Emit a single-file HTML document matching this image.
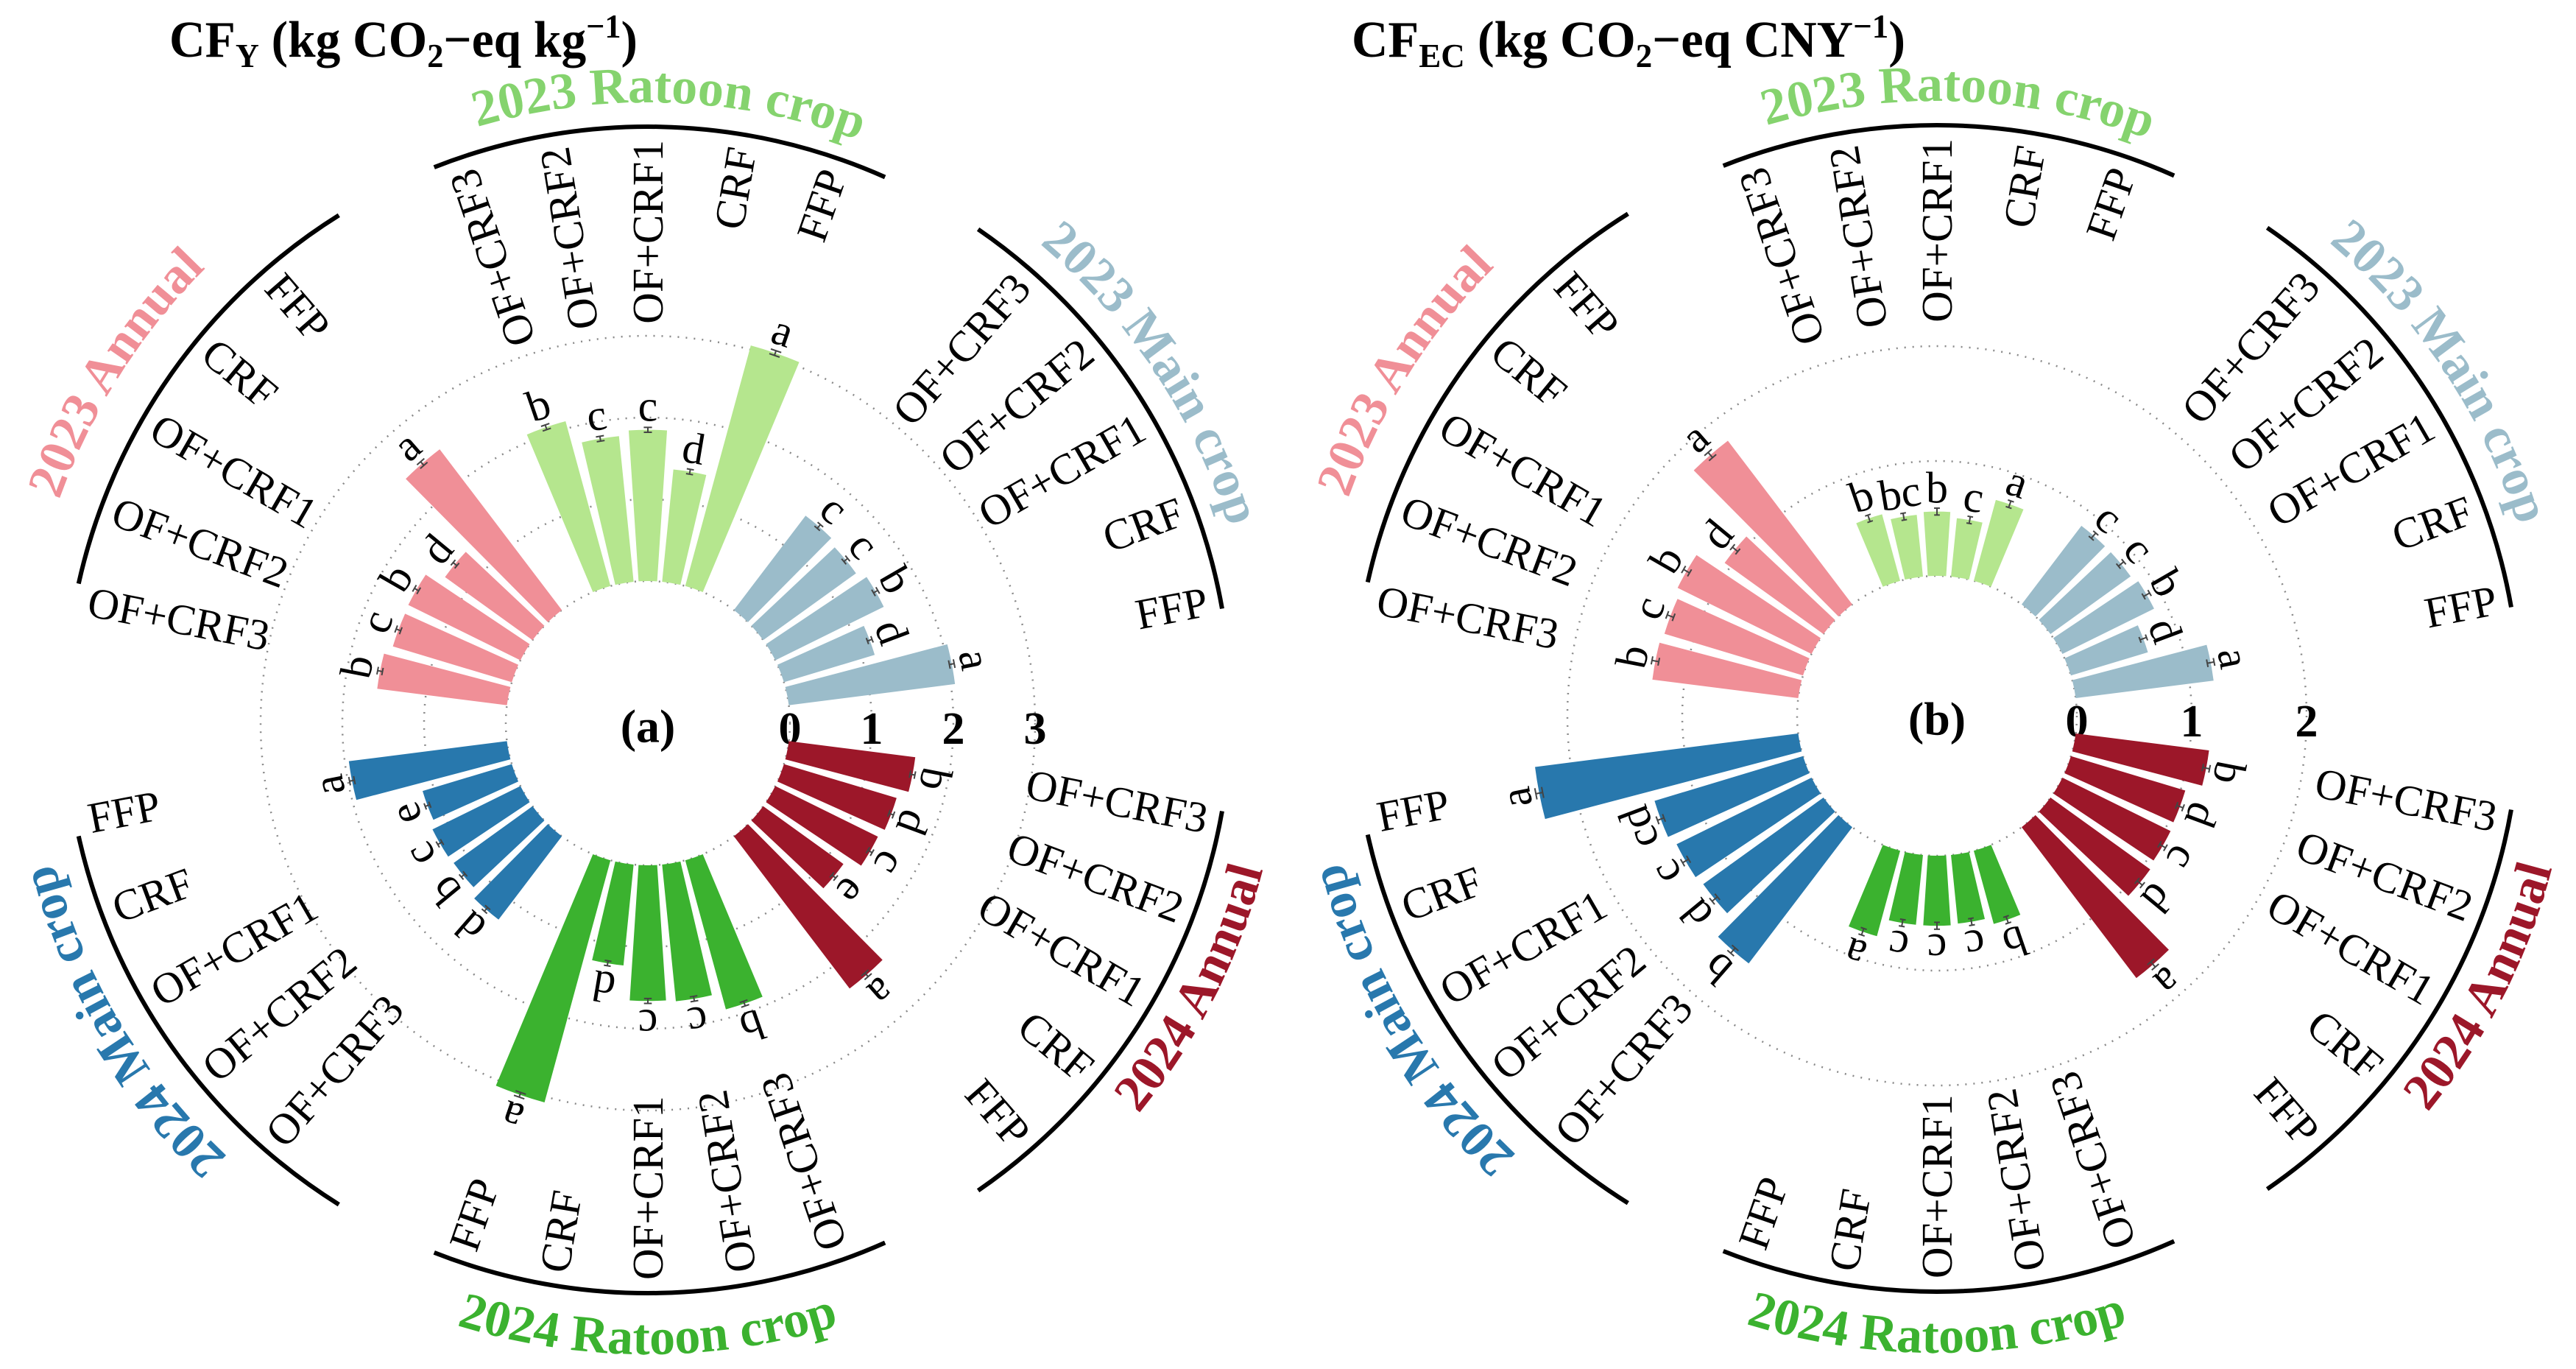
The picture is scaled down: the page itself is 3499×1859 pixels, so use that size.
<!DOCTYPE html>
<html><head><meta charset="utf-8"><style>
html,body{margin:0;padding:0;background:#fff;}
svg{display:block;font-family:"Liberation Serif",serif;}
</style></head><body>
<svg id="chart" width="3499" height="1859" viewBox="0 0 3499 1859" xmlns="http://www.w3.org/2000/svg">
<text x="230" y="77" font-size="70" font-weight="bold" textLength="636" lengthAdjust="spacingAndGlyphs">CF<tspan font-size="46" dy="14">Y</tspan><tspan dy="-14"> (kg CO</tspan><tspan font-size="46" dy="14">2</tspan><tspan dy="-14">−eq kg</tspan><tspan font-size="46" dy="-26">−1</tspan><tspan dy="26">)</tspan></text>
<text x="1836" y="77" font-size="70" font-weight="bold" textLength="752" lengthAdjust="spacingAndGlyphs">CF<tspan font-size="46" dy="14">EC</tspan><tspan dy="-14"> (kg CO</tspan><tspan font-size="46" dy="14">2</tspan><tspan dy="-14">−eq CNY</tspan><tspan font-size="46" dy="-26">−1</tspan><tspan dy="26">)</tspan></text>
</svg>
<script>
// ---- data ----
const groups = ["2023 Main crop","2023 Ratoon crop","2023 Annual","2024 Main crop","2024 Ratoon crop","2024 Annual"];
const treatments = ["FFP","CRF","OF+CRF1","OF+CRF2","OF+CRF3"];
const cfyValues = [
  [2.05,1.16,1.48,1.40,1.45],
  [3.05,1.38,1.85,1.79,2.09],
  [2.47,1.32,1.53,1.52,1.60],
  [1.95,1.14,1.20,1.19,1.28],
  [3.07,1.24,1.66,1.68,1.89],
  [2.34,1.21,1.40,1.44,1.56]
];
const cfyLetters = [
  ["a","d","b","c","c"],["a","d","c","c","b"],["a","d","b","c","b"],
  ["a","e","c","b","d"],["a","d","c","c","b"],["a","e","c","d","b"]
];
const cfecValues = [
  [1.21,0.70,0.89,0.86,0.86],
  [0.73,0.51,0.56,0.54,0.60],
  [1.79,1.06,1.30,1.26,1.28],
  [2.31,1.35,1.31,1.29,1.49],
  [0.77,0.61,0.61,0.60,0.66],
  [1.65,1.07,1.05,1.04,1.17]
];
const cfecLetters = [
  ["a","d","b","c","c"],["a","c","b","bc","b"],["a","d","b","c","b"],
  ["a","cd","c","d","b"],["a","c","c","c","b"],["a","d","c","d","b"]
];
const cfyTicks = [0,1,2,3];
const cfecTicks = [0,1,2];
const errVal = 0.03;

const colors = ["#9bbcca","#b5e68e","#f08f97","#2878ad","#3bb22f","#9c1729"];
const titleColors = ["#9bbcca","#85d36e","#f08f97","#2878ad","#3bb22f","#9c1729"];
const NS = "http://www.w3.org/2000/svg";
const svg = document.getElementById('chart');
function mk(tag, attrs, parent){const e=document.createElementNS(NS,tag);for(const k in attrs)e.setAttribute(k,attrs[k]);(parent||svg).appendChild(e);return e;}
const rad = d=>d*Math.PI/180;

function drawPanel(P){
  const g = mk('g',{});
  
  
  const pt=(r,th)=>[P.cx+r*Math.cos(rad(th)), P.cy-r*Math.sin(rad(th))];
  const rv=v=>P.r0+v*P.unit;
  P.ticks.forEach(t=>{
    const c=mk('circle',{cx:P.cx,cy:P.cy,r:rv(t),fill:'none',stroke:'#8a8a8a','stroke-width':2.5,'stroke-dasharray':'2 9'},g);
    
    
    const tx=mk('text',{x:P.cx+rv(t),y:P.cy+8,'font-size':62,'font-weight':'bold','text-anchor':'middle','dominant-baseline':'central'},g);
    tx.textContent=t;
    
    
  });
  const pl=mk('text',{x:P.cx,y:P.cy+4,'font-size':64,'font-weight':'bold','text-anchor':'middle','dominant-baseline':'central'},g);
  pl.textContent=P.label;
  
  
  const half=3.75;
  P.values.forEach((vals,gi)=>{
    const gc=30+60*gi;
    vals.forEach((v,i)=>{
      const th=gc-19+9.5*i;
      const r1=rv(v);
      const a=pt(P.r0,th-half),b=pt(r1,th-half),c=pt(r1,th+half),d=pt(P.r0,th+half);
      const p=mk('path',{d:`M${a}L${b}A${r1} ${r1} 0 0 0 ${c}L${d}A${P.r0} ${P.r0} 0 0 1 ${a}Z`,fill:colors[gi]},g);
      
      
      const e1=pt(rv(v-errVal),th),e2=pt(rv(v+errVal),th);
      const eb=mk('line',{x1:e1[0],y1:e1[1],x2:e2[0],y2:e2[1],stroke:'#444','stroke-width':2},g);
      
      
      [v-errVal,v+errVal].forEach(ev=>{
        const q1=pt(rv(ev),th-0.8),q2=pt(rv(ev),th+0.8);
        const cp=mk('line',{x1:q1[0],y1:q1[1],x2:q2[0],y2:q2[1],stroke:'#444','stroke-width':2},g);
        
        
      });
      const lp=pt(r1+32,th);
      const lt=mk('text',{x:lp[0],y:lp[1],'font-size':60,'text-anchor':'middle','dominant-baseline':'central',transform:`rotate(${90-th} ${lp[0]} ${lp[1]})`},g);
      lt.textContent=P.letters[gi][i];
      
      
      const outward=(gi===0||gi===1||gi===5);
      const L=[P.ax+P.lr*Math.cos(rad(th)),P.ay-P.lr*Math.sin(rad(th))];
      const rot=outward?-th:180-th;
      const ct=mk('text',{x:L[0],y:L[1],'font-size':59,'text-anchor':outward?'end':'start','dominant-baseline':'central',transform:`rotate(${rot} ${L[0]} ${L[1]})`},g);
      ct.textContent=treatments[i];
      
      
    });
    const spans=[[10,55.5],[66,111.5],[122,167.5],[192.5,238],[248.5,294],[304.5,350]];
    const s=spans[gi];
    const A=[P.ax+P.ar*Math.cos(rad(s[0])),P.ay-P.ar*Math.sin(rad(s[0]))];
    const B=[P.ax+P.ar*Math.cos(rad(s[1])),P.ay-P.ar*Math.sin(rad(s[1]))];
    const arc=mk('path',{d:`M${A}A${P.ar} ${P.ar} 0 0 0 ${B}`,fill:'none',stroke:'#000','stroke-width':6},g);
    
    
    const tAng=[33.7,88,147.7,210.6,270,333][gi];
    const trs=[850,848,872,856,852,840][gi];
    const cw=gi<=3;
    const rt=cw?trs-23:trs+23;
    const t1=cw?tAng+60:tAng-60, t2=cw?tAng-60:tAng+60;
    const S=[P.ax+rt*Math.cos(rad(t1)),P.ay-rt*Math.sin(rad(t1))];
    const E=[P.ax+rt*Math.cos(rad(t2)),P.ay-rt*Math.sin(rad(t2))];
    const pid=P.id+'-tp'+gi;
    mk('path',{id:pid,d:`M${S}A${rt} ${rt} 0 0 ${cw?1:0} ${E}`,fill:'none'},g);
    const tt=mk('text',{'font-size':70,'font-weight':'bold',fill:titleColors[gi],'text-anchor':'middle'},g);
    
    
    const tp=mk('textPath',{href:'#'+pid,startOffset:'50%'},tt);
    tp.textContent=groups[gi];
  });
}
drawPanel({id:'pa',name:'panel-a-cfy',label:'(a)',cx:880,cy:982,r0:193,unit:111,ticks:cfyTicks,values:cfyValues,letters:cfyLetters,ax:880,ay:964,ar:792,lr:774});
drawPanel({id:'pb',name:'panel-b-cfec',label:'(b)',cx:2631,cy:972,r0:190,unit:156,ticks:cfecTicks,values:cfecValues,letters:cfecLetters,ax:2631,ay:962,ar:792,lr:774});
</script>
</body></html>
